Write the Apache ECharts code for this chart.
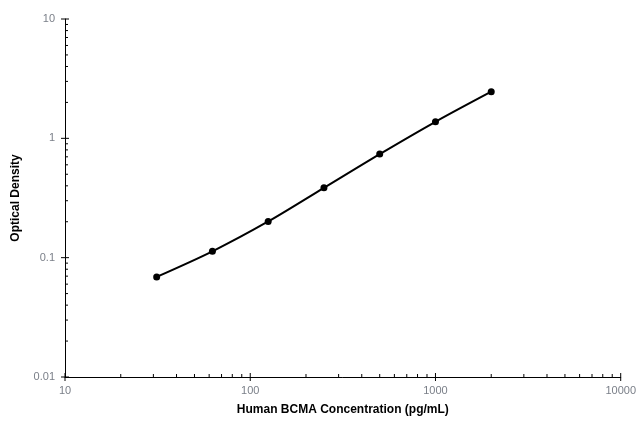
<!DOCTYPE html>
<html><head><meta charset="utf-8">
<script src="https://cdn.jsdelivr.net/npm/echarts@6/dist/echarts.min.js"></script>
<style>html,body{margin:0;padding:0;background:#fff}#c{width:639px;height:421px}</style>
</head><body><div id="c"></div>
<script>
const concentration = [31.25, 62.5, 125, 250, 500, 1000, 2000];
const opticalDensity = [0.069, 0.113, 0.201, 0.385, 0.738, 1.377, 2.46];
const xDecades = [10, 100, 1000, 10000];
const yDecades = [0.01, 0.1, 1, 10];
const minorMultipliers = [2, 3, 4, 5, 6, 7, 8, 9];

function buildTicks(decades) {
  const out = [];
  decades.forEach((d, i) => {
    out.push([d, 1]);
    if (i < decades.length - 1) minorMultipliers.forEach(m => out.push([d * m, 0]));
  });
  return out;
}
const xTicks = buildTicks(xDecades).map(t => [t[0], yDecades[0], t[1]]);
const yTicks = buildTicks(yDecades).map(t => [xDecades[0], t[0], t[1]]);

const chart = echarts.init(document.getElementById('c'));
const labelStyle = { color: '#7a7f88', fontFamily: 'Liberation Sans', fontSize: 11 };
const fmt = v => String(+Number(v).toPrecision(3));
chart.setOption({
  animation: false,
  grid: { left: 65, right: 17, top: 19, bottom: 40, containLabel: false },
  xAxis: {
    type: 'log', logBase: 10, min: 10, max: 10000,
    name: 'Human BCMA Concentration (pg/mL)', nameLocation: 'middle', nameGap: 27,
    nameTextStyle: { color: '#000', fontWeight: 'bold', fontSize: 12, fontFamily: 'Liberation Sans' },
    axisLine: { lineStyle: { color: '#000', width: 1 } },
    axisTick: { show: false },
    axisLabel: Object.assign({ margin: 8, formatter: fmt }, labelStyle),
    splitLine: { show: false }
  },
  yAxis: {
    type: 'log', logBase: 10, min: 0.01, max: 10,
    name: 'Optical Density', nameLocation: 'middle', nameGap: 43,
    nameTextStyle: { color: '#000', fontWeight: 'bold', fontSize: 12, fontFamily: 'Liberation Sans' },
    axisLine: { show: true, lineStyle: { color: '#000', width: 1 } },
    axisTick: { show: false },
    axisLabel: Object.assign({ margin: 10, formatter: fmt }, labelStyle),
    splitLine: { show: false }
  },
  series: [
    {
      type: 'line', data: concentration.map((c, i) => [c, opticalDensity[i]]),
      smooth: 0.3, symbol: 'circle', symbolSize: 7,
      lineStyle: { color: '#000', width: 2 }, itemStyle: { color: '#000' }
    },
    {
      type: 'custom', clip: false, silent: true, z: 5,
      data: xTicks.concat(yTicks),
      encode: { x: 0, y: 1 },
      renderItem: function (params, api) {
        const p = api.coord([api.value(0), api.value(1)]);
        const major = api.value(2) === 1;
        const isX = params.dataIndex < xTicks.length;
        const shape = isX
          ? { x1: p[0], y1: p[1] - (major ? 4 : 3), x2: p[0], y2: p[1] + (major ? 4 : 0) }
          : { x1: p[0] - (major ? 4 : 0), y1: p[1], x2: p[0] + (major ? 4 : 3), y2: p[1] };
        return { type: 'line', shape: shape, style: { stroke: '#000', lineWidth: 1 } };
      }
    }
  ]
});
</script></body></html>
